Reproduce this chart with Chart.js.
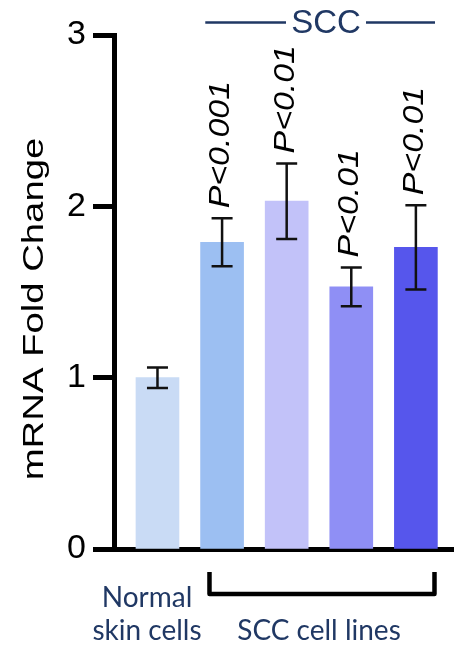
<!DOCTYPE html>
<html>
<head>
<meta charset="utf-8">
<script src="https://cdn.jsdelivr.net/npm/chart.js@4.4.1/dist/chart.umd.min.js"></script>
<style>
  html, body { margin: 0; padding: 0; background: #fff; }
  #wrap { width: 454px; height: 648px; }
</style>
</head>
<body>
<div id="wrap"><canvas id="foldChart" width="454" height="648"></canvas></div>
<script>
// data
const categories = ['Normal skin cells', 'SCC line 1', 'SCC line 2', 'SCC line 3', 'SCC line 4'];
const foldChange = [1.0, 1.79, 2.03, 1.53, 1.76];
const errors = [0.06, 0.14, 0.22, 0.113, 0.246];
const pValues = ['', 'P<0.001', 'P<0.01', 'P<0.01', 'P<0.01'];
const barColors = ['#c9dbf5', '#9cbff2', '#c2c2f9', '#8f8ff5', '#5656ec'];
const yTicks = [0, 1, 2, 3];

const NAVY = '#203864';
const SANS = "'Liberation Sans', Arial, sans-serif";

// error bars, p-value labels, axis title and group labels
const annotations = {
  id: 'annotations',
  afterDraw(chart) {
    const { ctx, scales: { x, y } } = chart;
    ctx.save();

    foldChange.forEach((v, i) => {
      const px = x.getPixelForValue(i + 1);
      const hi = y.getPixelForValue(v + errors[i]);
      const lo = y.getPixelForValue(v - errors[i]);
      ctx.strokeStyle = '#111';
      ctx.lineWidth = 2.5;
      ctx.beginPath();
      ctx.moveTo(px, hi); ctx.lineTo(px, lo);
      ctx.moveTo(px - 10.5, hi); ctx.lineTo(px + 10.5, hi);
      ctx.moveTo(px - 10.5, lo); ctx.lineTo(px + 10.5, lo);
      ctx.stroke();

      if (pValues[i]) {
        ctx.save();
        ctx.translate(px - 1, hi - 10);
        ctx.rotate(-Math.PI / 2);
        ctx.scale(1.17, 1);
        ctx.font = 'italic 29px ' + SANS;
        ctx.fillStyle = '#000';
        ctx.textAlign = 'left';
        ctx.textBaseline = 'middle';
        ctx.fillText(pValues[i], 0, 0);
        ctx.restore();
      }
    });

    // y axis title (stretched like the original)
    ctx.save();
    ctx.translate(43, (y.top + y.bottom) / 2 + 17);
    ctx.rotate(-Math.PI / 2);
    ctx.scale(1.32, 1);
    ctx.font = '29px ' + SANS;
    ctx.fillStyle = '#000';
    ctx.textAlign = 'center';
    ctx.textBaseline = 'alphabetic';
    ctx.fillText('mRNA Fold Change', 0, 0);
    ctx.restore();

    // SCC header with lines
    const hx1 = x.getPixelForValue(1.74);
    const hx2 = x.getPixelForValue(5.296);
    const hMid = 326;
    ctx.strokeStyle = NAVY;
    ctx.lineWidth = 2.5;
    ctx.beginPath();
    ctx.moveTo(hx1, 22.5); ctx.lineTo(hMid - 40, 22.5);
    ctx.moveTo(hMid + 40, 22.5); ctx.lineTo(hx2, 22.5);
    ctx.stroke();
    ctx.font = '33px ' + SANS;
    ctx.fillStyle = NAVY;
    ctx.textAlign = 'center';
    ctx.textBaseline = 'alphabetic';
    ctx.fillText('SCC', hMid, 33);

    // bracket under SCC lines
    const bx1 = x.getPixelForValue(1.805);
    const bx2 = x.getPixelForValue(5.288);
    ctx.strokeStyle = '#000';
    ctx.lineWidth = 4.5;
    ctx.lineJoin = 'round';
    ctx.beginPath();
    ctx.moveTo(bx1, 572); ctx.lineTo(bx1, 594); ctx.lineTo(bx2, 594); ctx.lineTo(bx2, 572);
    ctx.stroke();

    // group labels
    ctx.font = "28px Lato, 'Open Sans', sans-serif";
    ctx.fillStyle = NAVY;
    ctx.fillText('Normal', 147, 607);
    ctx.fillText('skin cells', 147, 640);
    ctx.fillText('SCC cell lines', 319, 640);

    ctx.restore();
  }
};

new Chart(document.getElementById('foldChart'), {
  type: 'bar',
  data: {
    labels: categories,
    datasets: [{
      data: foldChange.map((v, i) => ({ x: i + 1, y: v })),
      backgroundColor: barColors,
      borderWidth: 0,
      barThickness: 43
    }]
  },
  options: {
    responsive: false,
    animation: false,
    devicePixelRatio: 1,
    layout: { padding: { top: 35, bottom: 99, left: 0, right: 0 } },
    plugins: { legend: { display: false }, tooltip: { enabled: false } },
    scales: {
      x: {
        type: 'linear',
        offset: false,
        min: 0.327,
        max: 5.59,
        ticks: { display: false },
        grid: { display: false, offset: false },
        border: { display: true, width: 5, color: '#000' },
        afterFit: (s) => { s.height = 0; }
      },
      y: {
        min: 0,
        max: 3,
        afterBuildTicks: (s) => { s.ticks = yTicks.map(v => ({ value: v })); },
        ticks: {
          font: { family: SANS, size: 34 },
          color: '#000',
          padding: 7
        },
        grid: {
          drawOnChartArea: false,
          tickLength: 21,
          tickWidth: 5,
          tickColor: '#000'
        },
        border: { display: true, width: 5, color: '#000' },
        afterFit: (s) => { s.width = 114; }
      }
    }
  },
  plugins: [annotations]
});
</script>
</body>
</html>
